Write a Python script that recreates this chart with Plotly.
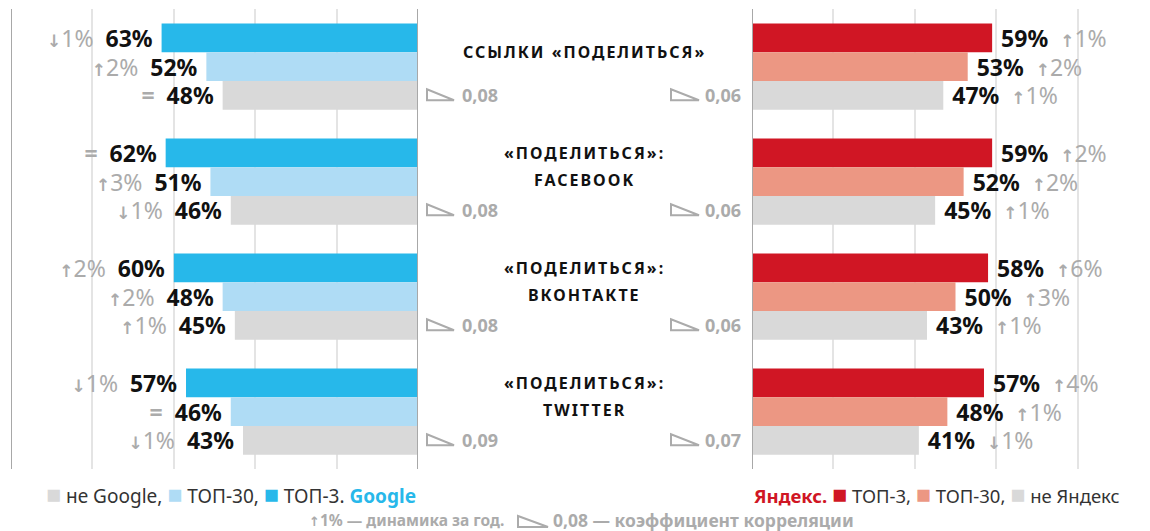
import plotly.graph_objects as go

# ---------------- data ----------------
categories = ["ССЫЛКИ «ПОДЕЛИТЬСЯ»", "«ПОДЕЛИТЬСЯ»:<br>FACEBOOK",
              "«ПОДЕЛИТЬСЯ»:<br>ВКОНТАКТЕ", "«ПОДЕЛИТЬСЯ»:<br>TWITTER"]

google_top3 = [63, 62, 60, 57]
google_top3_change = ["↓1%", "=", "↑2%", "↓1%"]
google_top30 = [52, 51, 48, 46]
google_top30_change = ["↑2%", "↑3%", "↑2%", "="]
not_google = [48, 46, 45, 43]
not_google_change = ["=", "↓1%", "↑1%", "↓1%"]
google_corr = ["0,08", "0,08", "0,08", "0,09"]

yandex_top3 = [59, 59, 58, 57]
yandex_top3_change = ["↑1%", "↑2%", "↑6%", "↑4%"]
yandex_top30 = [53, 52, 50, 48]
yandex_top30_change = ["↑2%", "↑2%", "↑3%", "↑1%"]
not_yandex = [47, 45, 43, 41]
not_yandex_change = ["↑1%", "↑1%", "↑1%", "↓1%"]
yandex_corr = ["0,06", "0,06", "0,06", "0,07"]

# ---------------- style ----------------
W, H = 1150, 531
FONT = "Noto Sans"
GRAY = "#ababab"
AXGRAY = "#a8a8a8"
GRID = "#e4e4e4"
C_G3, C_G30, C_GN = "#27b8ea", "#afdcf5", "#d9d9d9"
C_Y3, C_Y30, C_YN = "#d01624", "#ec9783", "#d9d9d9"
BARGAP = 0.25
bar_w = (1 - BARGAP) / 3

pos = list(range(len(categories)))

ARROW_STYLE = "font-family:DejaVu Sans;font-weight:bold;font-size:17px"


def chg_html(c):
    if c == "=":
        return f"<span style='color:{GRAY}'><b>=</b></span>"
    return (f"<span style='color:{GRAY}'><span style='{ARROW_STYLE}'>{c[0]}</span>"
            f"{c[1:]}</span>")


def left_text(vals, chg):
    return [f"{chg_html(c)}\u00a0\u00a0<b>{v}%</b>\u00a0" for v, c in zip(vals, chg)]


def right_text(vals, chg):
    return [f"\u00a0<b>{v}%</b>\u00a0\u00a0{chg_html(c)}" for v, c in zip(vals, chg)]


fig = go.Figure()
for vals, chg, col in [(google_top3, google_top3_change, C_G3),
                       (google_top30, google_top30_change, C_G30),
                       (not_google, not_google_change, C_GN)]:
    fig.add_trace(go.Bar(x=vals, y=pos, orientation="h", marker_color=col, marker_line_width=0,
                         text=left_text(vals, chg), textposition="outside", cliponaxis=False,
                         constraintext="none", textfont=dict(family=FONT, size=23, color="#111"),
                         xaxis="x", yaxis="y", hoverinfo="skip", showlegend=False))
for vals, chg, col in [(yandex_top3, yandex_top3_change, C_Y3),
                       (yandex_top30, yandex_top30_change, C_Y30),
                       (not_yandex, not_yandex_change, C_YN)]:
    fig.add_trace(go.Bar(x=vals, y=pos, orientation="h", marker_color=col, marker_line_width=0,
                         text=right_text(vals, chg), textposition="outside", cliponaxis=False,
                         constraintext="none", textfont=dict(family=FONT, size=23, color="#111"),
                         xaxis="x2", yaxis="y2", hoverinfo="skip", showlegend=False))

left_px0, left_px1 = 11, 418
right_px0 = 752
px_per_pct = (left_px1 - left_px0) / 100.0
right_max = (W - right_px0) / px_per_pct

axis_common = dict(showticklabels=False, tickvals=[20, 40, 60, 80], showgrid=True,
                   gridcolor=GRID, gridwidth=2, zeroline=False, showline=False, fixedrange=True)
yrange = [len(categories) - 0.5, -0.5]
fig.update_layout(
    width=W, height=H, margin=dict(l=0, r=0, t=9, b=62),
    paper_bgcolor="white", plot_bgcolor="white",
    barmode="group", bargap=BARGAP, bargroupgap=0,
    font=dict(family=FONT, color="#111"),
    xaxis=dict(domain=[left_px0 / W, left_px1 / W], range=[100, 0], anchor="y", **axis_common),
    xaxis2=dict(domain=[right_px0 / W, 1], range=[0, right_max], anchor="y2", **axis_common),
    yaxis=dict(range=yrange, visible=False, anchor="x", fixedrange=True),
    yaxis2=dict(range=yrange, visible=False, anchor="x2", overlaying="y", fixedrange=True),
)

shapes = []
# axis lines
for xr, xv in [("x", 0), ("x", 100), ("x2", 0)]:
    shapes.append(dict(type="line", xref=xr, yref="paper", x0=xv, x1=xv, y0=0, y1=1,
                       line=dict(color=AXGRAY, width=2), layer="above"))

annotations = []
for i, cat in enumerate(categories):
    lines = cat.split("<br>")
    n = len(lines)
    for j, ln in enumerate(lines):
        annotations.append(dict(xref="paper", yref="y", x=585 / W, y=pos[i],
                                yshift=15 + (n - 1) * 13.5 - j * 27, showarrow=False,
                                text=f"<b><span style='letter-spacing:2px'>{ln}</span></b>",
                                font=dict(family=FONT, size=16, color="#111"),
                                xanchor="center", yanchor="middle"))
    # correlation icons
    yb = pos[i] + bar_w
    shapes.append(dict(type="path", xref="paper", yref="y", xsizemode="pixel", ysizemode="pixel",
                       xanchor=left_px1 / W, yanchor=yb, path="M9,6 L9,-5 L36,-5 Z",
                       line=dict(color=GRAY, width=2), fillcolor="rgba(0,0,0,0)"))
    annotations.append(dict(xref="x", yref="y", x=0, y=yb, xshift=42, showarrow=False,
                            text=f"<b>{google_corr[i]}</b>", xanchor="left", yanchor="middle",
                            font=dict(family=FONT, size=18, color=GRAY)))
    shapes.append(dict(type="path", xref="paper", yref="y2", xsizemode="pixel", ysizemode="pixel",
                       xanchor=right_px0 / W, yanchor=yb, path="M-81,6 L-81,-5 L-53,-5 Z",
                       line=dict(color=GRAY, width=2), fillcolor="rgba(0,0,0,0)"))
    annotations.append(dict(xref="x2", yref="y2", x=0, y=yb, xshift=-9, showarrow=False,
                            text=f"<b>{yandex_corr[i]}</b>", xanchor="right", yanchor="middle",
                            font=dict(family=FONT, size=18, color=GRAY)))

# legends
def sq(col):
    return f"<span style='color:{col};font-size:25px'>■</span>"

annotations.append(dict(
    xref="paper", yref="paper", x=left_px1 / W, y=0, yshift=-24, xanchor="right", yanchor="middle",
    showarrow=False, font=dict(family=FONT, size=19, color="#333"),
    text=(f"{sq(C_GN)} не Google, {sq(C_G30)} ТОП-30, {sq(C_G3)} ТОП-3. "
          f"<b><span style='color:{C_G3}'>Google</span></b>")))
annotations.append(dict(
    xref="paper", yref="paper", x=right_px0 / W, y=0, yshift=-24, xanchor="left", yanchor="middle",
    showarrow=False, font=dict(family=FONT, size=18.5, color="#333"),
    text=(f"<b><span style='color:{C_Y3}'>Яндекс.</span></b> "
          f"{sq(C_Y3)} ТОП-3, {sq(C_Y30)} ТОП-30, {sq(C_YN)} не Яндекс")))

# footnote
annotations.append(dict(xref="paper", yref="paper", x=506 / W, y=0, yshift=-51, xanchor="right",
                        yanchor="middle", showarrow=False,
                        font=dict(family=FONT, size=15.5, color=GRAY),
                        text=f"<b><span style='{ARROW_STYLE};font-size:13px'>↑</span>1% — динамика за год.</b>"))
annotations.append(dict(xref="paper", yref="paper", x=551 / W, y=0, yshift=-51, xanchor="left",
                        yanchor="middle", showarrow=False,
                        font=dict(family=FONT, size=17.5, color=GRAY),
                        text="<b>0,08 — коэффициент корреляции</b>"))
shapes.append(dict(type="path", xref="paper", yref="paper", xsizemode="pixel", ysizemode="pixel",
                   xanchor=518 / W, yanchor=0, path="M0,-47 L0,-58 L30,-58 Z",
                   line=dict(color=GRAY, width=2), fillcolor="rgba(0,0,0,0)"))

fig.update_layout(shapes=shapes, annotations=annotations)
fig.write_html("out.html", config={"displayModeBar": False},
               post_script="document.body.style.margin='0';document.body.style.overflow='hidden';")
